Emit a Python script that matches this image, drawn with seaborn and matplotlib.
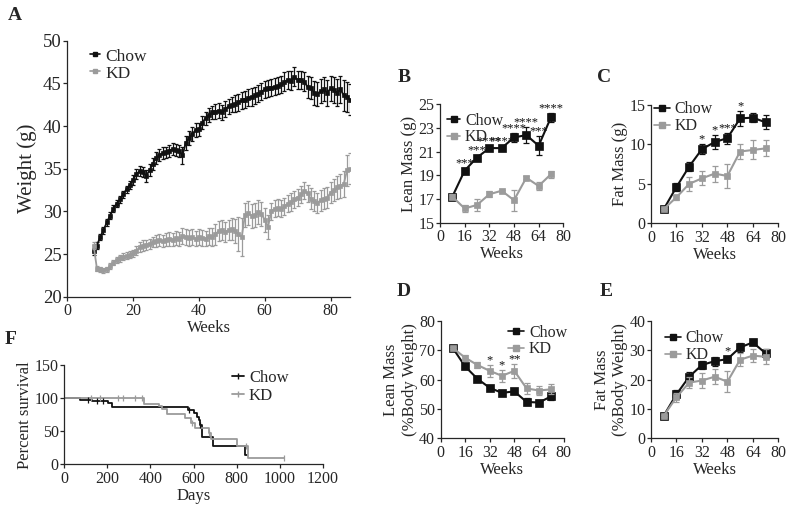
import numpy as np
import pandas as pd
import matplotlib
matplotlib.use("Agg")
import matplotlib.pyplot as plt
from matplotlib.lines import Line2D
import seaborn as sns

# ---- panel A: body weight, weekly ----
weeks_a = list(range(8, 87))
chow_weight = [25.3, 26.0, 27.0, 27.8, 28.7, 29.5, 30.3, 30.9, 31.4, 32.0,
               32.6, 33.1, 33.7, 34.4, 34.7, 34.6, 34.2, 34.8, 35.6, 36.3,
               36.6, 36.8, 36.9, 37.1, 37.3, 37.2, 37.1, 36.6, 38.0, 38.6,
               39.1, 39.5, 39.6, 40.4, 40.9, 41.3, 41.6, 41.7, 41.8, 41.6,
               42.0, 42.3, 42.5, 42.6, 42.8, 43.0, 43.1, 43.3, 43.4, 43.6,
               43.8, 44.0, 44.3, 44.4, 44.5, 44.6, 44.7, 44.9, 45.2, 45.4,
               45.3, 45.8, 45.4, 45.4, 45.2, 44.6, 44.5, 43.9, 43.8, 44.1,
               44.3, 43.9, 44.4, 44.2, 43.9, 44.3, 43.6, 43.4, 43.1]
chow_weight_sem = [0.4, 0.4, 0.4, 0.4, 0.4, 0.4, 0.4, 0.4, 0.4, 0.4,
                   0.4, 0.5, 0.6, 0.6, 0.6, 0.6, 0.7, 0.7, 0.7, 0.7,
                   0.7, 0.7, 0.7, 0.7, 0.7, 0.7, 0.7, 1.0, 0.8, 0.8,
                   0.8, 0.8, 0.8, 0.8, 0.8, 0.8, 0.8, 0.9, 0.9, 0.9,
                   0.9, 0.9, 0.9, 1.0, 1.0, 1.0, 1.0, 1.0, 1.0, 1.0,
                   1.0, 1.0, 1.0, 1.0, 1.0, 1.0, 1.0, 1.0, 1.1, 1.1,
                   1.1, 1.1, 1.1, 1.1, 1.1, 1.3, 1.3, 1.4, 1.4, 1.4,
                   1.4, 1.5, 1.5, 1.5, 1.6, 1.6, 1.8, 1.8, 1.8]
kd_weight = [26.0, 23.3, 23.2, 23.1, 23.2, 23.6, 24.0, 24.3, 24.5, 24.7,
             24.8, 24.9, 25.1, 25.4, 25.8, 26.0, 26.1, 26.2, 26.4, 26.5,
             26.6, 26.5, 26.7, 26.8, 26.7, 26.9, 26.8, 27.1, 27.0, 26.9,
             27.0, 26.8, 27.0, 26.9, 26.8, 27.1, 27.0, 27.3, 27.7, 27.8,
             27.6, 27.8, 27.9, 27.7, 27.3, 27.0, 29.6, 29.8, 29.5, 29.6,
             29.9, 29.7, 29.0, 28.2, 30.0, 30.3, 30.4, 30.3, 30.6, 30.9,
             31.1, 31.4, 31.6, 32.0, 32.4, 32.1, 31.5, 31.2, 31.0, 31.3,
             31.5, 31.6, 32.2, 32.5, 32.8, 33.0, 33.2, 34.8, 35.0]
kd_weight_sem = [0.4, 0.3, 0.3, 0.3, 0.3, 0.3, 0.3, 0.4, 0.4, 0.4,
                 0.4, 0.4, 0.4, 0.5, 0.6, 0.6, 0.6, 0.6, 0.6, 0.7,
                 0.7, 0.7, 0.8, 0.8, 0.8, 0.8, 0.8, 0.9, 0.9, 0.9,
                 0.9, 0.9, 0.9, 0.9, 0.9, 1.0, 1.0, 1.2, 1.2, 1.2,
                 1.2, 1.2, 1.3, 1.4, 2.0, 2.2, 1.4, 1.4, 1.4, 1.4,
                 1.4, 1.4, 1.4, 1.4, 1.0, 1.0, 1.0, 1.0, 1.0, 1.0,
                 1.0, 1.0, 1.0, 1.0, 1.0, 1.0, 1.2, 1.2, 1.2, 1.2,
                 1.2, 1.2, 1.2, 1.3, 1.3, 1.4, 1.5, 1.8, 1.8]

# ---- panels B-E: body composition every 8 weeks ----
weeks_comp = [8, 16, 24, 32, 40, 48, 56, 64, 72]

lean_g_chow = [17.2, 19.4, 20.5, 21.3, 21.3, 22.2, 22.4, 21.5, 23.9]
lean_g_chow_sem = [0.2, 0.25, 0.2, 0.2, 0.2, 0.4, 0.7, 0.8, 0.4]
lean_g_kd = [17.2, 16.2, 16.5, 17.4, 17.7, 16.9, 18.8, 18.1, 19.1]
lean_g_kd_sem = [0.2, 0.3, 0.5, 0.25, 0.1, 0.9, 0.15, 0.3, 0.3]
lean_g_stars = ["", "***", "***", "****", "****", "****", "****", "***", "****"]

fat_g_chow = [1.8, 4.6, 7.2, 9.4, 10.3, 10.8, 13.3, 13.4, 12.8]
fat_g_chow_sem = [0.1, 0.5, 0.6, 0.6, 0.9, 0.7, 0.9, 0.6, 0.9]
fat_g_kd = [1.8, 3.3, 5.0, 5.7, 6.3, 6.0, 9.1, 9.3, 9.5]
fat_g_kd_sem = [0.1, 0.3, 0.9, 0.9, 1.0, 1.5, 1.0, 1.2, 1.0]
fat_g_stars = ["", "", "", "*", "*", "***", "*", "", ""]

lean_pct_chow = [70.8, 64.5, 60.3, 57.2, 55.5, 56.0, 52.4, 52.2, 54.3]
lean_pct_chow_sem = [0.5, 1.0, 0.8, 0.8, 0.8, 0.8, 1.2, 0.8, 1.2]
lean_pct_kd = [70.8, 67.5, 65.0, 63.0, 61.3, 63.0, 57.0, 56.3, 56.7]
lean_pct_kd_sem = [0.5, 1.0, 1.0, 2.0, 2.0, 2.5, 2.0, 1.5, 1.7]
lean_pct_stars = ["", "", "", "*", "*", "**", "", "", ""]

fat_pct_chow = [7.7, 15.0, 21.0, 25.0, 26.3, 27.0, 31.0, 32.7, 29.0]
fat_pct_chow_sem = [0.3, 1.5, 1.5, 1.2, 1.5, 1.0, 1.5, 1.0, 1.5]
fat_pct_kd = [7.7, 14.0, 19.0, 19.7, 21.0, 19.3, 26.8, 28.2, 27.8]
fat_pct_kd_sem = [0.3, 1.5, 2.0, 2.5, 2.5, 3.5, 2.3, 2.3, 2.5]
fat_pct_stars = ["", "", "", "", "", "*", "", "", ""]

# ---- panel F: Kaplan-Meier survival ----
chow_days = [0, 75, 130, 205, 222, 576, 600, 615, 625, 632, 640, 692, 838, 850]
chow_surv = [100, 97.4, 95.9, 92.4, 87.3, 82.3, 77.3, 72.2, 67.0, 59.5, 41.8, 27.7, 14.0, 14.0]
chow_cens_days = [110, 150, 180, 580, 628]
chow_cens_surv = [97.4, 95.9, 95.9, 82.3, 59.5]
kd_days = [0, 368, 442, 455, 477, 560, 590, 608, 670, 682, 800, 852, 1020]
kd_surv = [100, 91.7, 88.8, 83.8, 75.7, 69.7, 62.0, 55.0, 47.0, 38.5, 28.0, 9.5, 9.5]
kd_cens_days = [123, 166, 251, 274, 328, 359, 592, 672, 845, 1020]
kd_cens_surv = [100, 100, 100, 100, 100, 100, 62.0, 47.0, 28.0, 9.5]

BLACK = "#111111"
GRAY = "#9b9b9b"

sns.set_style("ticks")
plt.rcParams["font.family"] = ["Liberation Serif", "DejaVu Serif"]
plt.rcParams["axes.linewidth"] = 0.9
plt.rcParams["xtick.major.width"] = 0.9
plt.rcParams["ytick.major.width"] = 0.9
plt.rcParams["xtick.major.size"] = 3
plt.rcParams["ytick.major.size"] = 3
plt.rcParams["xtick.major.pad"] = 1.5
plt.rcParams["ytick.major.pad"] = 1
plt.rcParams["xtick.labelsize"] = 11.5
plt.rcParams["ytick.labelsize"] = 11.5
plt.rcParams["axes.labelsize"] = 12
plt.rcParams["axes.labelpad"] = 1

W, H = 795, 515
fig = plt.figure(figsize=(W / 100, H / 100), dpi=100)


def add_ax(left, top, width, height):
    return fig.add_axes([left / W, 1 - (top + height) / H, width / W, height / H])


def draw_series(ax, x, y, err, color, label, ms, lw, cap):
    sns.lineplot(x=x, y=y, ax=ax, color=color, marker="s", markersize=ms,
                 markeredgecolor=color, markeredgewidth=0.5, linewidth=lw,
                 label=label, legend=False, errorbar=None, sort=False)
    ax.errorbar(x, y, yerr=err, fmt="none", ecolor=color, elinewidth=0.9,
                capsize=cap, capthick=0.9)


def add_stars(ax, x, tops, stars):
    for xi, ti, s in zip(x, tops, stars):
        if s:
            ax.annotate(s, (xi, ti), xytext=(0, -1), textcoords="offset points",
                        ha="center", va="bottom", fontsize=9, color=BLACK)


def legend(ax, anchor, size, hl=1.0, ms=5):
    handles = [Line2D([], [], color=BLACK, marker="s", markersize=ms, lw=1.2),
               Line2D([], [], color=GRAY, marker="s", markersize=ms * 0.8, lw=1.2)]
    ax.legend(handles, ["Chow", "KD"], loc="upper left", bbox_to_anchor=anchor,
              frameon=False, fontsize=size, handlelength=hl, handletextpad=0.3,
              labelspacing=0.05, borderpad=0, borderaxespad=0)


def comp_panel(ax, chow, chow_sem, kd, kd_sem, stars, ylim, yticks, ylabel):
    draw_series(ax, weeks_comp, chow, chow_sem, BLACK, "Chow", 5.2, 1.5, 2.2)
    draw_series(ax, weeks_comp, kd, kd_sem, GRAY, "KD", 4.0, 1.5, 2.2)
    tops = np.maximum(np.add(chow, chow_sem), np.add(kd, kd_sem))
    add_stars(ax, weeks_comp, tops, stars)
    ax.set_xlim(0, 80)
    ax.set_xticks([0, 16, 32, 48, 64, 80])
    ax.set_ylim(*ylim)
    ax.set_yticks(yticks)
    ax.set_xlabel("Weeks")
    ax.set_ylabel(ylabel)
    sns.despine(ax=ax)


# A
axA = add_ax(67.3, 40.7, 283, 256)
draw_series(axA, weeks_a, chow_weight, chow_weight_sem, BLACK, "Chow", 2.6, 1.3, 1.5)
draw_series(axA, weeks_a, kd_weight, kd_weight_sem, GRAY, "KD", 2.6, 1.3, 1.5)
axA.set_xlim(0, 86)
axA.set_xticks([0, 20, 40, 60, 80])
axA.set_ylim(20, 50)
axA.set_yticks(range(20, 51, 5))
axA.tick_params(axis="y", labelsize=13.5)
axA.set_xlabel("Weeks")
axA.set_ylabel("Weight (g)", fontsize=15, labelpad=4)
sns.despine(ax=axA)
legend(axA, (0.08, 0.97), 12.5, hl=0.6, ms=3.5)

# B
axB = add_ax(440, 104.3, 123.3, 118.4)
comp_panel(axB, lean_g_chow, lean_g_chow_sem, lean_g_kd, lean_g_kd_sem, lean_g_stars,
           (15, 25), range(15, 26, 2), "Lean Mass (g)")
legend(axB, (0.06, 0.93), 11.5, hl=0.8)

# C
axC = add_ax(651, 105, 127.3, 118.3)
comp_panel(axC, fat_g_chow, fat_g_chow_sem, fat_g_kd, fat_g_kd_sem, fat_g_stars,
           (0, 15), [0, 5, 10, 15], "Fat Mass (g)")
legend(axC, (0.02, 1.03), 11.5, hl=1.0)

# D
axD = add_ax(440.5, 321, 123, 117.3)
comp_panel(axD, lean_pct_chow, lean_pct_chow_sem, lean_pct_kd, lean_pct_kd_sem,
           lean_pct_stars, (40, 80), range(40, 81, 10), "Lean Mass\n(%Body Weight)")
legend(axD, (0.55, 0.97), 11.5, hl=1.0)

# E
axE = add_ax(651, 321, 127.3, 117.3)
comp_panel(axE, fat_pct_chow, fat_pct_chow_sem, fat_pct_kd, fat_pct_kd_sem,
           fat_pct_stars, (0, 40), range(0, 41, 10), "Fat Mass\n(%Body Weight)")
legend(axE, (0.11, 0.92), 11.5, hl=1.0)

# F
axF = add_ax(64.3, 365.3, 258.4, 99)
sns.lineplot(x=chow_days, y=chow_surv, ax=axF, color=BLACK, linewidth=1.3,
             drawstyle="steps-post", errorbar=None, sort=False)
sns.lineplot(x=kd_days, y=kd_surv, ax=axF, color=GRAY, linewidth=1.3,
             drawstyle="steps-post", errorbar=None, sort=False)
axF.plot(chow_cens_days, chow_cens_surv, "|", color=BLACK, markersize=4, mew=0.9)
axF.plot(kd_cens_days, kd_cens_surv, "|", color=GRAY, markersize=4, mew=0.9)
axF.set_xlim(0, 1200)
axF.set_xticks(range(0, 1201, 200))
axF.set_ylim(0, 150)
axF.set_yticks([0, 50, 100, 150])
axF.set_xlabel("Days")
axF.set_ylabel("Percent survival")
sns.despine(ax=axF)
f_handles = [Line2D([], [], color=BLACK, marker="|", markersize=5, lw=1.3),
             Line2D([], [], color=GRAY, marker="|", markersize=5, lw=1.3)]
axF.legend(f_handles, ["Chow", "KD"], loc="upper left", bbox_to_anchor=(0.65, 0.95),
           frameon=False, fontsize=12, handlelength=0.7, handletextpad=0.3,
           labelspacing=0.1, borderpad=0, borderaxespad=0)

# panel letters
for letter, (px, py) in {"A": (15, 16), "B": (404, 77), "C": (604, 77),
                         "D": (404, 292), "E": (606, 292), "F": (11, 339)}.items():
    fig.text(px / W, 1 - py / H, letter, fontsize=14, fontweight="bold",
             ha="center", va="center")

fig.savefig("out.png", dpi=100)
